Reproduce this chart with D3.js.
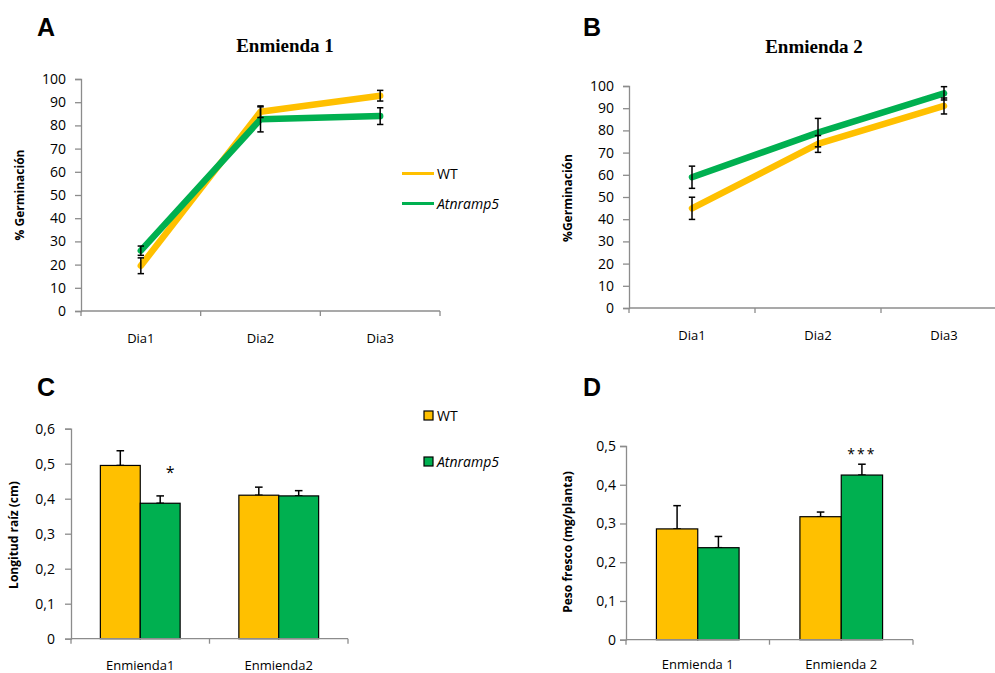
<!DOCTYPE html>
<html>
<head>
<meta charset="utf-8">
<script src="https://cdn.jsdelivr.net/npm/d3@7"></script>
<style>
  html, body { margin: 0; padding: 0; background: #fff; }
  svg { display: block; }
  text { font-family: "Open Sans", "DejaVu Sans", sans-serif; fill: #000; }
</style>
</head>
<body>
<svg id="chart" width="995" height="673"></svg>
<script>
// ---------- DATA ----------
const days = ["Dia1", "Dia2", "Dia3"];
const yTicksGerm = [0, 10, 20, 30, 40, 50, 60, 70, 80, 90, 100];

// Panel A – Enmienda 1 (% germinación)
const wtE1 = [19.5, 85.9, 92.8];
const wtE1Err = [3.4, 2.5, 2.3];
const atnE1 = [26.0, 82.6, 84.0];
const atnE1Err = [2.0, 5.4, 3.6];

// Panel B – Enmienda 2 (% germinación)
const wtE2 = [44.9, 73.9, 91.0];
const wtE2Err = [5.0, 3.8, 3.6];
const atnE2 = [58.9, 79.0, 96.7];
const atnE2Err = [5.0, 6.4, 3.0];

// Panel C – Longitud raíz (cm)
const groupsC = ["Enmienda1", "Enmienda2"];
const rootWT = [0.495, 0.410];
const rootWTErr = [0.042, 0.023];
const rootAtn = [0.387, 0.408];
const rootAtnErr = [0.021, 0.015];
const yTicksC = [0, 0.1, 0.2, 0.3, 0.4, 0.5, 0.6];
const sigC = ["*", ""];        // over Atnramp5 bars
const sigCVal = [0.46, null];

// Panel D – Peso fresco (mg/planta)
const groupsD = ["Enmienda 1", "Enmienda 2"];
const freshWT = [0.286, 0.3175];
const freshWTErr = [0.060, 0.012];
const freshAtn = [0.2375, 0.425];
const freshAtnErr = [0.029, 0.028];
const yTicksD = [0, 0.1, 0.2, 0.3, 0.4, 0.5];
const sigD = ["", "***"];
const sigDVal = [null, 0.466];

const seriesNames = ["WT", "Atnramp5"];
const colors = { WT: "#FFC000", Atnramp5: "#00B050" };

// ---------- DRAWING ----------
const svg = d3.select("#chart");
const axisColor = "#8C8C8C";
const commaFmt = d => d === 0 ? "0" : d3.format(".1f")(d).replace(".", ",");

function yAxis(g, y, ticks, x0, pad, fmt) {
  const ax = d3.axisLeft(y).tickValues(ticks).tickSize(6).tickPadding(pad)
    .tickFormat(fmt || (d => d));
  const gg = g.append("g").attr("transform", `translate(${x0},0)`).call(ax);
  gg.select(".domain").attr("stroke", axisColor).attr("stroke-width", 1.3);
  gg.selectAll(".tick line").attr("stroke", axisColor).attr("stroke-width", 1.3);
  gg.selectAll(".tick text").style("font-size", "14px").style("font-family", '"Open Sans", sans-serif').attr("fill", "#000");
}

function xAxis(g, x, yPos, labelOffset) {
  const [r0, r1] = x.range();
  g.append("line").attr("x1", r0).attr("x2", r1).attr("y1", yPos).attr("y2", yPos)
    .attr("stroke", axisColor).attr("stroke-width", 1.3);
  const edges = x.domain().map(d => x(d)).concat([x(x.domain()[x.domain().length - 1]) + x.bandwidth()]);
  g.selectAll(null).data(edges).enter().append("line")
    .attr("x1", d => d).attr("x2", d => d).attr("y1", yPos).attr("y2", yPos + 5)
    .attr("stroke", axisColor).attr("stroke-width", 1.3);
  g.selectAll(null).data(x.domain()).enter().append("text")
    .attr("x", d => x(d) + x.bandwidth() / 2).attr("y", yPos + labelOffset)
    .attr("text-anchor", "middle").style("font-size", "13px").text(d => d);
}

function yLabel(g, text, cx, cy) {
  g.append("text").attr("transform", `translate(${cx},${cy}) rotate(-90)`)
    .attr("text-anchor", "middle").attr("dy", "0.35em")
    .style("font-size", "12px").style("font-weight", "bold").text(text);
}

function panelLetter(g, t, x, y) {
  g.append("text").attr("x", x).attr("y", y)
    .style("font-family", '"Liberation Sans", Arial, sans-serif')
    .style("font-size", "25px").style("font-weight", "bold").text(t);
}

function title(g, t, x, y) {
  g.append("text").attr("x", x).attr("y", y).attr("text-anchor", "middle")
    .style("font-family", '"Liberation Serif", "Times New Roman", serif')
    .style("font-size", "19px").style("font-weight", "bold").text(t);
}

function errBar(g, cx, yTop, yBot, cap) {
  g.append("line").attr("x1", cx).attr("x2", cx).attr("y1", yTop).attr("y2", yBot)
    .attr("stroke", "#000").attr("stroke-width", 1.5);
  g.append("line").attr("x1", cx - cap).attr("x2", cx + cap).attr("y1", yTop).attr("y2", yTop)
    .attr("stroke", "#000").attr("stroke-width", 1.5);
  if (yBot !== null) {
    g.append("line").attr("x1", cx - cap).attr("x2", cx + cap).attr("y1", yBot).attr("y2", yBot)
      .attr("stroke", "#000").attr("stroke-width", 1.5);
  }
}

function linePanel(opts) {
  const g = svg.append("g");
  const x = d3.scaleBand().domain(days).range(opts.xRange);
  const y = d3.scaleLinear().domain([0, 100]).range(opts.yRange);
  yAxis(g, y, yTicksGerm, opts.xRange[0], 9);
  xAxis(g, x, opts.yRange[0], 32);
  const cx = d => x(d) + x.bandwidth() / 2;
  const line = d3.line().x((d, i) => cx(days[i])).y(d => y(d));
  const sets = [
    { name: "WT", vals: opts.wt, err: opts.wtErr },
    { name: "Atnramp5", vals: opts.atn, err: opts.atnErr }
  ];
  sets.forEach(s => {
    g.append("path").datum(s.vals).attr("d", line).attr("fill", "none")
      .attr("stroke", colors[s.name]).attr("stroke-width", 6.5)
      .attr("stroke-linecap", "round").attr("stroke-linejoin", "round");
  });
  sets.forEach(s => {
    s.vals.forEach((v, i) => {
      errBar(g, cx(days[i]), y(v + s.err[i]), y(v - s.err[i]), 3.2);
    });
  });
  return g;
}

// Panel A
const gA = linePanel({ xRange: [81, 440], yRange: [311, 79], wt: wtE1, wtErr: wtE1Err, atn: atnE1, atnErr: atnE1Err });
panelLetter(gA, "A", 37, 36);
title(gA, "Enmienda 1", 285, 52);
yLabel(gA, "% Germinación", 20, 195);
// legend A
seriesNames.forEach((n, i) => {
  const ly = 173.5 + i * 30;
  gA.append("line").attr("x1", 402).attr("x2", 434).attr("y1", ly).attr("y2", ly)
    .attr("stroke", colors[n]).attr("stroke-width", 3);
  gA.append("text").attr("x", 437).attr("y", ly + 5).style("font-size", "14px")
    .style("font-style", n === "WT" ? "normal" : "italic").text(n);
});

// Panel B
const gB = linePanel({ xRange: [629, 1007], yRange: [308, 86], wt: wtE2, wtErr: wtE2Err, atn: atnE2, atnErr: atnE2Err });
panelLetter(gB, "B", 583, 36);
title(gB, "Enmienda 2", 814, 53);
yLabel(gB, "%Germinación", 568, 198);

function barPanel(opts) {
  const g = svg.append("g");
  const x = d3.scaleBand().domain(opts.groups).range(opts.xRange);
  const y = d3.scaleLinear().domain([0, opts.yMax]).range(opts.yRange);
  yAxis(g, y, opts.ticks, opts.xRange[0], opts.pad, commaFmt);
  const bw = x.bandwidth() * 0.288;
  const sets = [
    { name: "WT", vals: opts.wt, err: opts.wtErr, off: -bw },
    { name: "Atnramp5", vals: opts.atn, err: opts.atnErr, off: 0 }
  ];
  sets.forEach(s => {
    s.vals.forEach((v, i) => {
      const c = x(opts.groups[i]) + x.bandwidth() / 2;
      const bx = c + s.off;
      errBar(g, bx + bw / 2, y(v + s.err[i]), y(v), 3.8);
      g.append("rect").attr("x", bx).attr("y", y(v)).attr("width", bw).attr("height", y(0) - y(v))
        .attr("fill", colors[s.name]).attr("stroke", "#000").attr("stroke-width", 1.2);
    });
  });
  xAxis(g, x, opts.yRange[0], opts.labelOff);
  opts.sig.forEach((t, i) => {
    if (!t) return;
    const c = x(opts.groups[i]) + x.bandwidth() / 2 + bw / 2 + opts.sigDx;
    g.append("text").attr("x", c).attr("y", y(opts.sigVal[i])).attr("text-anchor", "middle")
      .style("font-size", opts.sigSize).style("letter-spacing", opts.sigSpacing).text(t);
  });
  return g;
}

// Panel C
const gC = barPanel({
  groups: groupsC, xRange: [71, 348], yRange: [638.7, 428.7], yMax: 0.6, ticks: yTicksC, pad: 10,
  wt: rootWT, wtErr: rootWTErr, atn: rootAtn, atnErr: rootAtnErr, labelOff: 31,
  sig: sigC, sigVal: sigCVal, sigSize: "16px", sigSpacing: "0px", sigDx: 10
});
panelLetter(gC, "C", 37, 396);
yLabel(gC, "Longitud raíz (cm)", 14, 535);
seriesNames.forEach((n, i) => {
  const ly = 411 + i * 46;
  gC.append("rect").attr("x", 424).attr("y", ly).attr("width", 9).attr("height", 9)
    .attr("fill", colors[n]).attr("stroke", "#000").attr("stroke-width", 1.2);
  gC.append("text").attr("x", 437).attr("y", ly + 10).style("font-size", "14px")
    .style("font-style", n === "WT" ? "normal" : "italic").text(n);
});

// Panel D
const gD = barPanel({
  groups: groupsD, xRange: [626, 913], yRange: [639.7, 446], yMax: 0.5, ticks: yTicksD, pad: 4,
  wt: freshWT, wtErr: freshWTErr, atn: freshAtn, atnErr: freshAtnErr, labelOff: 29.5,
  sig: sigD, sigVal: sigDVal, sigSize: "14px", sigSpacing: "2px", sigDx: 0
});
panelLetter(gD, "D", 583, 396);
yLabel(gD, "Peso fresco (mg/planta)", 568, 542);
</script>
</body>
</html>
